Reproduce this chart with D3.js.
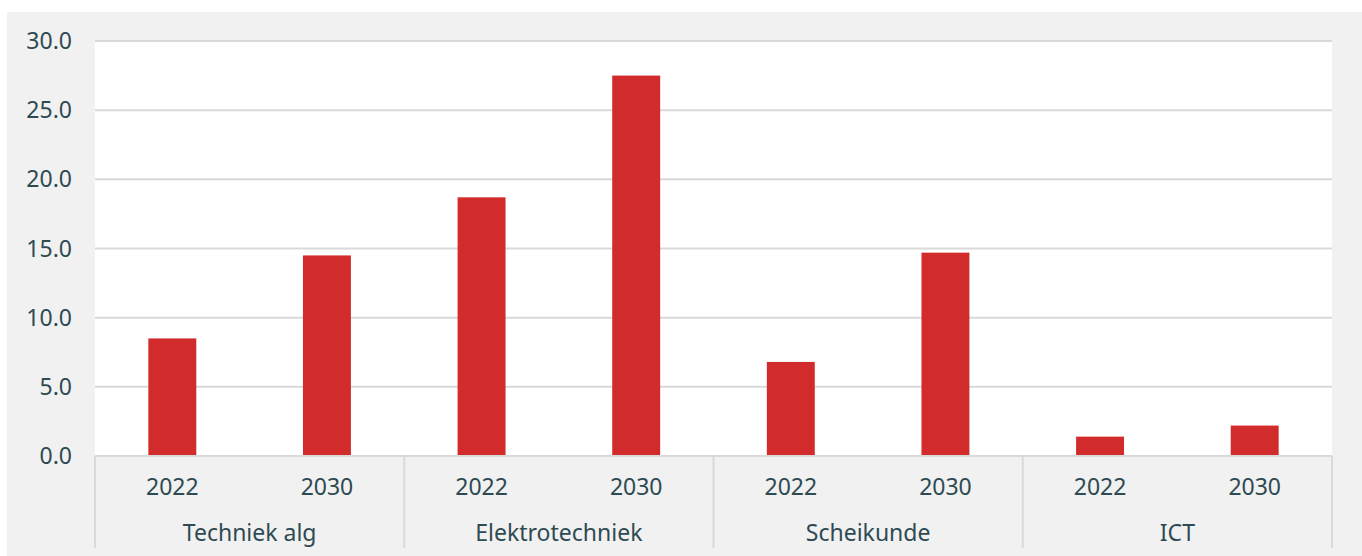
<!DOCTYPE html>
<html>
<head>
<meta charset="utf-8">
<script src="https://cdn.jsdelivr.net/npm/d3@7"></script>
<style>
  body { margin: 0; background: #fff; }
  text { font-family: "Noto Sans", "Open Sans", sans-serif; fill: #2e4a52; }
</style>
</head>
<body>
<script>
// data
const groups = ["Techniek alg", "Elektrotechniek", "Scheikunde", "ICT"];
const years = ["2022", "2030"];
const values2022 = [8.5, 18.7, 6.8, 1.4];
const values2030 = [14.5, 27.5, 14.7, 2.2];
const yTicks = [0, 5, 10, 15, 20, 25, 30];

const width = 1362, height = 556;
const margin = { top: 41, right: 30, bottom: 100, left: 95 };

const svg = d3.select("body").append("svg")
  .attr("width", width)
  .attr("height", height);

// grey panel
svg.append("rect")
  .attr("x", 7).attr("y", 12)
  .attr("width", width - 7).attr("height", height - 12)
  .attr("fill", "#f1f1f1");

const plotW = width - margin.left - margin.right;
const plotH = height - margin.top - margin.bottom;

const g = svg.append("g").attr("transform", `translate(${margin.left},${margin.top})`);

g.append("rect")
  .attr("width", plotW).attr("height", plotH)
  .attr("fill", "#fff");

// flatten to one band per bar
const bars = [];
groups.forEach((grp, i) => {
  bars.push({ group: grp, year: years[0], value: values2022[i] });
  bars.push({ group: grp, year: years[1], value: values2030[i] });
});

const x = d3.scaleBand()
  .domain(bars.map(d => d.group + "|" + d.year))
  .range([0, plotW])
  .paddingInner(0.69)
  .paddingOuter(0.345);

const xGroup = d3.scaleBand()
  .domain(groups)
  .range([0, plotW]);

const y = d3.scaleLinear().domain([0, 30]).range([plotH, 0]);

// gridlines
g.append("g")
  .selectAll("line")
  .data(yTicks.filter(d => d > 0))
  .join("line")
  .attr("x1", 0).attr("x2", plotW)
  .attr("y1", d => y(d)).attr("y2", d => y(d))
  .attr("stroke", "#d9d9d9")
  .attr("stroke-width", 2);

// y labels
g.append("g")
  .selectAll("text")
  .data(yTicks)
  .join("text")
  .attr("x", -23)
  .attr("y", d => y(d))
  .attr("dy", "0.35em")
  .attr("text-anchor", "end")
  .style("font-size", "23px")
  .text(d => d.toFixed(1));

// bars
g.append("g")
  .selectAll("rect")
  .data(bars)
  .join("rect")
  .attr("x", d => x(d.group + "|" + d.year))
  .attr("y", d => y(d.value))
  .attr("width", x.bandwidth())
  .attr("height", d => plotH - y(d.value))
  .attr("fill", "#d22b2b");

// baseline
g.append("line")
  .attr("x1", 0).attr("x2", plotW)
  .attr("y1", plotH).attr("y2", plotH)
  .attr("stroke", "#d9d9d9")
  .attr("stroke-width", 2);

// group dividers
g.append("g")
  .selectAll("line")
  .data(groups.map(d => xGroup(d)).concat([plotW]))
  .join("line")
  .attr("x1", d => d).attr("x2", d => d)
  .attr("y1", plotH).attr("y2", plotH + 92)
  .attr("stroke", "#d9d9d9")
  .attr("stroke-width", 2);

// year labels
g.append("g")
  .selectAll("text")
  .data(bars)
  .join("text")
  .attr("x", d => x(d.group + "|" + d.year) + x.bandwidth() / 2)
  .attr("y", plotH + 31)
  .attr("dy", "0.35em")
  .attr("text-anchor", "middle")
  .style("font-size", "23px")
  .text(d => d.year);

// group labels
g.append("g")
  .selectAll("text")
  .data(groups)
  .join("text")
  .attr("x", d => xGroup(d) + xGroup.bandwidth() / 2)
  .attr("y", plotH + 77)
  .attr("dy", "0.35em")
  .attr("text-anchor", "middle")
  .style("font-size", "23px")
  .text(d => d);
</script>
</body>
</html>
